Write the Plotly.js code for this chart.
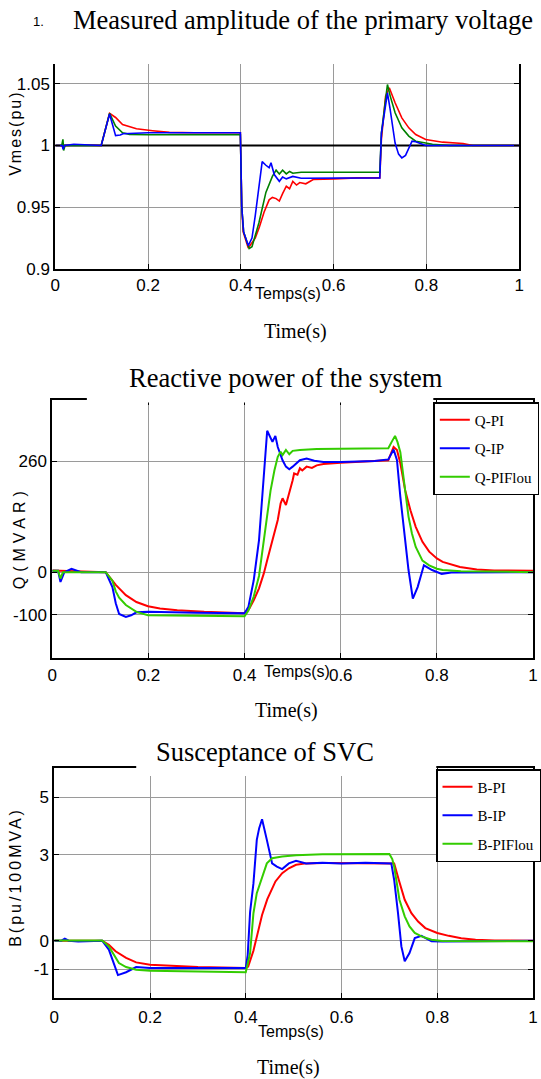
<!DOCTYPE html>
<html>
<head>
<meta charset="utf-8">
<script src="https://cdn.plot.ly/plotly-3.0.1.min.js"></script>
<style>
html,body{margin:0;padding:0;background:#fff;}
#chart{width:541px;height:1079px;}
.annotation[data-index="4"] .annotation-text{letter-spacing:2px;}
.annotation[data-index="8"] .annotation-text{letter-spacing:5px;}
.annotation[data-index="12"] .annotation-text{letter-spacing:3px;}
</style>
</head>
<body>
<div id="chart"></div>
<script>
// ---------- tick labels ----------
var xTickVals = [0, 0.2, 0.4, 0.6, 0.8, 1];
var xTickText = ['0', '0.2', '0.4', '0.6', '0.8', '1'];
var vTickVals = [0.9, 0.95, 1, 1.05];
var vTickText = ['0.9', '0.95', '1', '1.05'];
var qTickVals = [-100, 0, 260];
var qTickText = ['-100', '0', '260'];
var bTickVals = [-1, 0, 3, 5];
var bTickText = ['-1', '0', '3', '5'];

// ---------- chart 1 : Vmes (pu) ----------
var vRefT = [0, 1];
var vRef = [1, 1];

var vPIT = [0, 0.014, 0.017, 0.02, 0.05, 0.099, 0.117, 0.13, 0.145, 0.175, 0.21, 0.246, 0.3, 0.399, 0.402, 0.405, 0.416, 0.425, 0.431, 0.44, 0.45, 0.461, 0.468, 0.476, 0.483, 0.49, 0.498, 0.505, 0.512, 0.52, 0.527, 0.54, 0.556, 0.6, 0.65, 0.6995, 0.703, 0.712, 0.72, 0.7325, 0.747, 0.762, 0.777, 0.7985, 0.835, 0.879, 0.9, 1.0];
var vPI = [1.0, 1.0, 0.998, 1.0, 1.0005, 1.0, 1.026, 1.0227, 1.017, 1.0135, 1.012, 1.0106, 1.0103, 1.0103, 0.95, 0.93, 0.917, 0.922, 0.925, 0.934, 0.946, 0.956, 0.958, 0.957, 0.955, 0.961, 0.967, 0.965, 0.971, 0.968, 0.970, 0.969, 0.9725, 0.973, 0.9738, 0.9738, 1.005, 1.04, 1.0468, 1.0346, 1.0224, 1.0143, 1.0089, 1.0049, 1.0027, 1.0016, 1.0, 1.0];

var vFLT = [0, 0.014, 0.0165, 0.018, 0.021, 0.099, 0.117, 0.13, 0.145, 0.16, 0.2, 0.399, 0.402, 0.406, 0.418, 0.424, 0.439, 0.454, 0.468, 0.476, 0.483, 0.49, 0.498, 0.505, 0.512, 0.53, 0.6995, 0.703, 0.716, 0.722, 0.7325, 0.747, 0.762, 0.777, 0.7985, 0.813, 0.85, 1.0];
var vFL = [1.0, 1.0, 1.005, 0.996, 1.0, 1.0, 1.026, 1.0157, 1.0103, 1.009, 1.0087, 1.0087, 0.95, 0.93, 0.9165, 0.918, 0.9375, 0.962, 0.975, 0.98, 0.977, 0.98, 0.977, 0.979, 0.9775, 0.9784, 0.9784, 1.01, 1.0494, 1.04, 1.0265, 1.0143, 1.0076, 1.0035, 1.002, 1.001, 1.0, 1.0];

var vIPT = [0, 0.015, 0.017, 0.02, 0.04, 0.06, 0.099, 0.117, 0.124, 0.13, 0.14, 0.146, 0.2, 0.399, 0.402, 0.406, 0.416, 0.424, 0.431, 0.446, 0.454, 0.461, 0.465, 0.472, 0.483, 0.49, 0.498, 0.512, 0.53, 0.6995, 0.703, 0.716, 0.7215, 0.7325, 0.74, 0.747, 0.755, 0.769, 0.777, 0.7985, 1.0];
var vIP = [1.0, 1.0, 0.997, 1.0, 1.001, 1.0005, 1.0, 1.0255, 1.015, 1.008, 1.0085, 1.0095, 1.0103, 1.0103, 0.95, 0.93, 0.919, 0.925, 0.943, 0.987, 0.984, 0.982, 0.986, 0.9765, 0.971, 0.9745, 0.973, 0.975, 0.9735, 0.9738, 1.01, 1.0427, 1.03, 1.002, 0.993, 0.990, 0.992, 1.0035, 1.003, 1.0, 1.0];

// ---------- chart 2 : Q (MVAR) ----------
var qPIT = [0, 0.05, 0.111, 0.132, 0.153, 0.175, 0.199, 0.224, 0.26, 0.316, 0.4, 0.41, 0.419, 0.43, 0.44, 0.447, 0.454, 0.462, 0.469, 0.475, 0.479, 0.486, 0.493, 0.5, 0.503, 0.51, 0.515, 0.52, 0.529, 0.54, 0.55, 0.564, 0.6, 0.671, 0.699, 0.71, 0.717, 0.724, 0.734, 0.745, 0.756, 0.77, 0.784, 0.8, 0.812, 0.848, 0.883, 0.919, 1.0];
var qPI = [4, 2, 0, -30, -54, -70, -80, -85, -89, -93, -96, -85, -66, -38, -3, 28, 59, 91, 122, 161, 173, 157, 184, 215, 231, 228, 243, 238, 247, 244, 250, 253, 256, 261, 262, 293, 286, 255, 192, 145, 106, 71, 48, 32, 24, 12, 6, 4, 3];

var qIPT = [0, 0.012, 0.017, 0.025, 0.04, 0.06, 0.111, 0.125, 0.132, 0.139, 0.153, 0.164, 0.175, 0.2, 0.3, 0.4, 0.408, 0.419, 0.43, 0.44, 0.447, 0.458, 0.464, 0.469, 0.479, 0.486, 0.493, 0.5, 0.515, 0.529, 0.545, 0.564, 0.6, 0.671, 0.699, 0.71, 0.717, 0.724, 0.734, 0.741, 0.75, 0.76, 0.773, 0.79, 0.81, 0.83, 1.0];
var qIP = [3, 3, -23, 0, 8, 0, 0, -35, -73, -98, -105, -101, -94, -93, -95, -96, -81, -19, 75, 231, 331, 305, 319, 293, 262, 247, 241, 247, 262, 266, 261, 258, 258, 260, 264, 287, 262, 176, 83, 5, -62, -35, 16, 5, -4, -1, 0];

var qFLT = [0, 0.012, 0.017, 0.022, 0.111, 0.125, 0.132, 0.139, 0.153, 0.175, 0.199, 0.3, 0.4, 0.408, 0.419, 0.43, 0.44, 0.447, 0.454, 0.462, 0.469, 0.475, 0.479, 0.486, 0.493, 0.5, 0.515, 0.55, 0.6, 0.65, 0.699, 0.706, 0.713, 0.718, 0.724, 0.734, 0.741, 0.748, 0.756, 0.77, 0.784, 0.8, 0.812, 0.85, 1.0];
var qFL = [3, 3, -15, 0, 0, -20, -45, -60, -77, -93, -101, -102, -103, -90, -57, -9, 75, 137, 191, 238, 270, 282, 274, 286, 276, 284, 286, 288, 289, 289, 290, 305, 319, 305, 281, 192, 130, 91, 59, 27, 16, 8, 5, 2, 0];

// ---------- chart 3 : B (pu/100MVA) ----------
var bPIT = [0, 0.1, 0.114, 0.128, 0.15, 0.171, 0.2, 0.256, 0.3, 0.4, 0.405, 0.416, 0.425, 0.434, 0.445, 0.455, 0.462, 0.476, 0.49, 0.505, 0.526, 0.561, 0.6, 0.7, 0.71, 0.72, 0.732, 0.746, 0.76, 0.775, 0.8, 0.824, 0.85, 0.88, 0.92, 1.0];
var bPI = [0, 0, -0.14, -0.37, -0.6, -0.756, -0.836, -0.895, -0.92, -0.95, -0.9, -0.35, 0.3, 0.9, 1.45, 1.85, 2.07, 2.36, 2.53, 2.65, 2.7, 2.71, 2.71, 2.71, 2.7, 2.1, 1.43, 0.96, 0.67, 0.44, 0.27, 0.17, 0.09, 0.035, 0.01, 0];

var bIPT = [0, 0.015, 0.022, 0.03, 0.05, 0.1, 0.114, 0.128, 0.133, 0.15, 0.171, 0.2, 0.3, 0.4, 0.404, 0.409, 0.416, 0.423, 0.428, 0.434, 0.444, 0.455, 0.465, 0.476, 0.49, 0.505, 0.526, 0.56, 0.6, 0.65, 0.704, 0.71, 0.718, 0.725, 0.732, 0.742, 0.753, 0.767, 0.788, 0.81, 1.0];
var bIP = [0, 0, 0.07, 0, -0.03, 0, -0.31, -0.95, -1.2, -1.1, -0.92, -0.95, -0.95, -0.95, -0.5, 1.0, 2.0, 3.52, 3.93, 4.24, 3.52, 2.7, 2.59, 2.5, 2.7, 2.79, 2.7, 2.72, 2.7, 2.72, 2.7, 2.12, 0.96, -0.2, -0.72, -0.43, 0.09, 0.17, -0.02, -0.03, 0];

var bFLT = [0, 0.1, 0.114, 0.128, 0.135, 0.15, 0.171, 0.2, 0.3, 0.38, 0.4, 0.409, 0.416, 0.423, 0.434, 0.444, 0.455, 0.476, 0.505, 0.56, 0.7, 0.706, 0.71, 0.714, 0.721, 0.732, 0.742, 0.753, 0.767, 0.788, 0.81, 0.88, 1.0];
var bFL = [0.01, 0.01, -0.2, -0.6, -0.78, -0.92, -1.01, -1.05, -1.07, -1.08, -1.1, -0.43, 0.96, 1.66, 2.24, 2.7, 2.88, 2.94, 2.98, 3.02, 3.03, 2.85, 2.59, 2.1, 1.43, 0.85, 0.5, 0.27, 0.15, 0.035, -0.01, -0.02, -0.02];

// ---------- helpers (pixel -> paper) ----------
var W = 541, H = 1079;
function px(x) { return x / W; }
function py(y) { return 1 - y / H; }

var SERIF = 'Liberation Serif, Times New Roman, serif';
var NARROW = 'Liberation Sans Narrow, Arial Narrow, Liberation Sans, Arial, sans-serif';
var SANS = 'Liberation Sans, Arial, sans-serif';

var RED = '#ff0000', BLUE = '#0000ff', DGREEN = '#008000', LGREEN = '#33cc00';

var traces = [
  {x: vRefT, y: vRef, xaxis: 'x', yaxis: 'y', mode: 'lines', line: {color: '#000000', width: 2}, showlegend: false, hoverinfo: 'skip'},
  {x: vPIT, y: vPI, xaxis: 'x', yaxis: 'y', mode: 'lines', line: {color: RED, width: 1.6}, showlegend: false},
  {x: vFLT, y: vFL, xaxis: 'x', yaxis: 'y', mode: 'lines', line: {color: DGREEN, width: 1.6}, showlegend: false},
  {x: vIPT, y: vIP, xaxis: 'x', yaxis: 'y', mode: 'lines', line: {color: BLUE, width: 1.6}, showlegend: false},

  {x: qPIT, y: qPI, xaxis: 'x2', yaxis: 'y2', mode: 'lines', name: 'Q-PI', legend: 'legend', legendgroup: 'qa', line: {color: RED, width: 2}},
  {x: qIPT, y: qIP, xaxis: 'x2', yaxis: 'y2', mode: 'lines', name: 'Q-IP', legend: 'legend', legendgroup: 'qb', line: {color: BLUE, width: 2}},
  {x: qFLT, y: qFL, xaxis: 'x2', yaxis: 'y2', mode: 'lines', name: 'Q-PIFlou', legend: 'legend', legendgroup: 'qc', line: {color: LGREEN, width: 2}},

  {x: bPIT, y: bPI, xaxis: 'x3', yaxis: 'y3', mode: 'lines', name: 'B-PI', legend: 'legend2', legendgroup: 'ba', line: {color: RED, width: 2}},
  {x: bIPT, y: bIP, xaxis: 'x3', yaxis: 'y3', mode: 'lines', name: 'B-IP', legend: 'legend2', legendgroup: 'bb', line: {color: BLUE, width: 2}},
  {x: bFLT, y: bFL, xaxis: 'x3', yaxis: 'y3', mode: 'lines', name: 'B-PIFlou', legend: 'legend2', legendgroup: 'bc', line: {color: LGREEN, width: 2}}
];

function xAx(d0, d1, anchor, mirror, standoff) {
  return {
    domain: [px(d0), px(d1)], anchor: anchor, range: [0, 1],
    tickvals: xTickVals, ticktext: xTickText, tickmode: 'array',
    showgrid: true, gridcolor: '#9a9a9a', gridwidth: 1, zeroline: false,
    ticks: 'inside', ticklen: 5, tickwidth: 1, tickcolor: '#000',
    showline: true, linecolor: '#000', linewidth: 2, mirror: mirror,
    tickfont: {family: NARROW, size: 17, color: '#000'},
    ticklabelstandoff: standoff || 0,
    ticklabeloverflow: 'allow', fixedrange: true
  };
}
function yAx(d0, d1, anchor, range, vals, text) {
  return {
    domain: [py(d1), py(d0)], anchor: anchor, range: range,
    tickvals: vals, ticktext: text, tickmode: 'array',
    showgrid: true, gridcolor: '#9a9a9a', gridwidth: 1, zeroline: false,
    ticks: 'inside', ticklen: 5, tickwidth: 1, tickcolor: '#000',
    showline: true, linecolor: '#000', linewidth: 2, mirror: 'ticks',
    tickfont: {family: NARROW, size: 17, color: '#000'},
    fixedrange: true
  };
}

function ann(text, x, y, size, family, angle) {
  return {text: text, x: px(x), y: py(y), xref: 'paper', yref: 'paper', showarrow: false,
    xanchor: 'center', yanchor: 'middle', textangle: angle || 0,
    font: {family: family, size: size, color: '#000'}};
}

var annotations = [
  ann('1.', 39, 22, 13, SANS),                                             // 0
  ann('Measured amplitude of the primary voltage', 307, 20, 26.5, SERIF),  // 1
  ann('Temps(s)', 292, 294, 16, NARROW),                                    // 2
  ann('Time(s)', 299, 331, 20, SERIF),                                      // 3
  ann('Vmes(pu)', 15, 133, 16, SANS, -90),                                  // 4
  ann('Reactive power of the system', 290, 378, 26.5, SERIF),               // 5
  ann('Temps(s)', 301, 671, 16, NARROW),                                    // 6
  ann('Time(s)', 290, 710, 20, SERIF),                                      // 7
  ann('Q(MVAR)', 19, 538, 16, SANS, -90),                                   // 8
  ann('Susceptance of SVC', 268, 752, 26.5, SERIF),                         // 9
  ann('Temps(s)', 295, 1031, 16, NARROW),                                   // 10
  ann('Time(s)', 292, 1067, 20, SERIF),                                     // 11
  ann('B(pu/100MVA)', 15, 877, 16, SANS, -90)                               // 12
];

var shapes = [
  {type: 'rect', xref: 'paper', yref: 'paper', x0: px(88), x1: px(439), y0: py(402.5), y1: py(395),
    fillcolor: '#fff', line: {width: 0}, layer: 'above'},
  {type: 'rect', xref: 'paper', yref: 'paper', x0: px(138), x1: px(442), y0: py(776), y1: py(762),
    fillcolor: '#fff', line: {width: 0}, layer: 'above'}
];

var legendBase = {
  xanchor: 'left', yanchor: 'top', bgcolor: '#fff', bordercolor: '#000', borderwidth: 1.5,
  font: {family: SERIF, size: 15, color: '#000'}, tracegroupgap: 6, itemwidth: 30
};

var layout = {
  width: W, height: H,
  margin: {l: 0, r: 0, t: 0, b: 0, pad: 0},
  paper_bgcolor: '#fff', plot_bgcolor: '#fff',
  showlegend: true,
  xaxis: xAx(56, 526, 'y', false, 0),
  yaxis: yAx(64, 269, 'x', [0.9, 1.066], vTickVals, vTickText),
  xaxis2: xAx(53, 540, 'y2', 'ticks', 1),
  yaxis2: yAx(400, 658, 'x2', [-201, 403], qTickVals, qTickText),
  xaxis3: xAx(55, 540, 'y3', 'ticks', 3),
  yaxis3: yAx(768, 998, 'x3', [-2, 6.03], bTickVals, bTickText),
  legend: Object.assign({}, legendBase, {x: px(439), y: py(402)}),
  legend2: Object.assign({}, legendBase, {x: px(442), y: py(769)}),
  annotations: annotations,
  shapes: shapes
};

Plotly.newPlot('chart', traces, layout, {displayModeBar: false, staticPlot: true});
</script>
</body>
</html>
